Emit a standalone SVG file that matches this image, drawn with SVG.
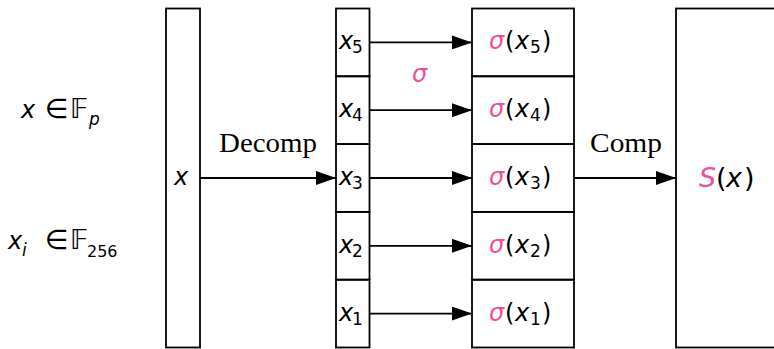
<svg xmlns="http://www.w3.org/2000/svg" width="774" height="349" viewBox="0 0 774 349">
<style>
.box{fill:none;stroke:#000;stroke-width:1.8}
.ln{fill:none;stroke:#000;stroke-width:1.8}
.m{font-family:"DejaVu Sans",sans-serif;font-style:italic;font-size:24px;fill:#000}
.u{font-family:"DejaVu Sans",sans-serif;font-style:normal;font-size:24px;fill:#000}
.r{font-family:"DejaVu Sans",sans-serif;font-style:normal;font-size:27px;fill:#000}
.s{font-family:"DejaVu Sans",sans-serif;font-style:normal;font-size:17px;fill:#000}
.si{font-family:"DejaVu Sans",sans-serif;font-style:italic;font-size:17px;fill:#000}
.pk{fill:#ee4f9c}
.rm{font-family:"Liberation Serif",serif;font-size:27px;fill:#000}
.big{font-size:27px}
</style>
<defs>
<marker id="ah" markerUnits="userSpaceOnUse" markerWidth="20" markerHeight="14" refX="20" refY="7" orient="auto">
<path d="M0,0 L20,7 L0,14 z" fill="#000"/>
</marker>
</defs>

<g id="labels-left">
<text class="m" x="21" y="118">x</text>
<text class="r" x="45" y="118">∈</text>
<text class="r" x="70" y="118">𝔽</text>
<text class="si" x="89" y="125">p</text>
<text class="m" x="8" y="249">x</text>
<text class="si" x="22" y="256">i</text>
<text class="r" x="45" y="249">∈</text>
<text class="r" x="70" y="249">𝔽</text>
<text class="s" x="87" y="257" style="font-size:16px">256</text>
</g>

<g id="node-x">
<rect class="box" x="166" y="8.5" width="34" height="339"/>
<text class="m" x="174" y="185">x</text>
</g>

<g id="node-decomp">
<rect class="box" x="336" y="8.5" width="33.5" height="67.8"/>
<text class="m" x="339" y="49.4">x</text><text class="s" x="352" y="53.4">5</text>
<rect class="box" x="336" y="76.3" width="33.5" height="67.8"/>
<text class="m" x="339" y="117.2">x</text><text class="s" x="352" y="121.2">4</text>
<rect class="box" x="336" y="144.1" width="33.5" height="67.8"/>
<text class="m" x="339" y="185">x</text><text class="s" x="352" y="189">3</text>
<rect class="box" x="336" y="211.9" width="33.5" height="67.8"/>
<text class="m" x="339" y="252.8">x</text><text class="s" x="352" y="256.8">2</text>
<rect class="box" x="336" y="279.7" width="33.5" height="67.8"/>
<text class="m" x="339" y="320.6">x</text><text class="s" x="352" y="324.6">1</text>
</g>

<g id="node-sigma">
<rect class="box" x="472" y="8.5" width="102" height="67.8"/>
<text class="m pk" x="489" y="49.4">σ</text><text class="u" x="505" y="49.4">(</text><text class="m" x="515" y="49.4">x</text><text class="s" x="530" y="53.4">5</text><text class="u" x="542" y="49.4">)</text>
<rect class="box" x="472" y="76.3" width="102" height="67.8"/>
<text class="m pk" x="489" y="117.2">σ</text><text class="u" x="505" y="117.2">(</text><text class="m" x="515" y="117.2">x</text><text class="s" x="530" y="121.2">4</text><text class="u" x="542" y="117.2">)</text>
<rect class="box" x="472" y="144.1" width="102" height="67.8"/>
<text class="m pk" x="489" y="185">σ</text><text class="u" x="505" y="185">(</text><text class="m" x="515" y="185">x</text><text class="s" x="530" y="189">3</text><text class="u" x="542" y="185">)</text>
<rect class="box" x="472" y="211.9" width="102" height="67.8"/>
<text class="m pk" x="489" y="252.8">σ</text><text class="u" x="505" y="252.8">(</text><text class="m" x="515" y="252.8">x</text><text class="s" x="530" y="256.8">2</text><text class="u" x="542" y="252.8">)</text>
<rect class="box" x="472" y="279.7" width="102" height="67.8"/>
<text class="m pk" x="489" y="320.6">σ</text><text class="u" x="505" y="320.6">(</text><text class="m" x="515" y="320.6">x</text><text class="s" x="530" y="324.6">1</text><text class="u" x="542" y="320.6">)</text>
</g>

<g id="node-S">
<rect class="box" x="676" y="8.5" width="120" height="339"/>
<text class="m pk big" x="699" y="187">S</text>
<text class="u big" x="716" y="187">(</text>
<text class="m big" x="726" y="187">x</text>
<text class="u big" x="744" y="187">)</text>
</g>

<g id="connectors">
<line class="ln" x1="200" y1="178" x2="336" y2="178" marker-end="url(#ah)"/>
<line class="ln" x1="369.5" y1="42.4" x2="472" y2="42.4" marker-end="url(#ah)"/>
<line class="ln" x1="369.5" y1="110.2" x2="472" y2="110.2" marker-end="url(#ah)"/>
<line class="ln" x1="369.5" y1="178" x2="472" y2="178" marker-end="url(#ah)"/>
<line class="ln" x1="369.5" y1="245.8" x2="472" y2="245.8" marker-end="url(#ah)"/>
<line class="ln" x1="369.5" y1="313.6" x2="472" y2="313.6" marker-end="url(#ah)"/>
<line class="ln" x1="574" y1="178" x2="676" y2="178" marker-end="url(#ah)"/>
<text class="rm" x="219" y="152" textLength="98" lengthAdjust="spacingAndGlyphs">Decomp</text>
<text class="m pk" x="412" y="82">σ</text>
<text class="rm" x="590" y="152" textLength="72" lengthAdjust="spacingAndGlyphs">Comp</text>
</g>
</svg>
